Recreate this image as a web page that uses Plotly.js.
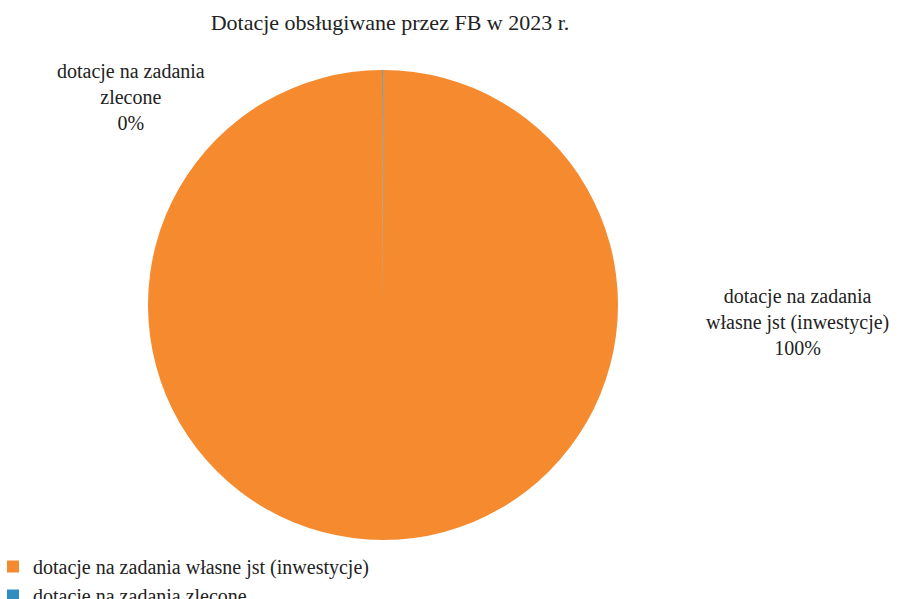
<!DOCTYPE html>
<html><head><meta charset="utf-8">
<script src="https://cdn.plot.ly/plotly-3.0.1.min.js"></script>
<style>html,body{margin:0;padding:0;background:#fff}#c{width:911px;height:599px}</style>
</head><body><div id="c"></div>
<script>
const categories = ["dotacje na zadania własne jst (inwestycje)", "dotacje na zadania zlecone"];
const values = [99.95, 0.05];
const pctLabels = ["100%", "0%"];
const colors = ["#F58A2E", "#2F8DBF"];
const W = 911, H = 599;
const serif = "'Times New Roman', 'Liberation Serif', Times, serif";

const trace = {
  type: "pie",
  labels: categories,
  values: values,
  sort: false,
  direction: "clockwise",
  rotation: 0,
  textinfo: "none",
  textposition: "none",
  hoverinfo: "label+percent",
  marker: {colors: colors, line: {color: "#ffffff", width: 0}},
  domain: {x: [148/W, 618/W], y: [1 - 542/H, 1 - 68/H]}
};

const layout = {
  width: W, height: H,
  margin: {l: 0, r: 0, t: 0, b: 0, autoexpand: false},
  paper_bgcolor: "#fff",
  font: {family: serif, color: "#222", size: 19},
  title: {text: "Dotacje obsługiwane przez FB w 2023 r.", font: {family: serif, size: 22, color: "#222"},
          x: 390/W, xanchor: "center", y: 1 - 22/H, yanchor: "middle"},
  showlegend: true,
  legend: {orientation: "h", x: -7/W, y: 1 - 581/H, xanchor: "left", yanchor: "middle",
           entrywidth: 400, entrywidthmode: "pixels", font: {family: serif, size: 20, color: "#222"},
           itemwidth: 30, traceorder: "normal"},
  annotations: [
    {text: "dotacje na zadania<br>zlecone<br>" + pctLabels[1], x: 131/W, y: 1 - 97/H, xref: "paper", yref: "paper",
     showarrow: false, xanchor: "center", yanchor: "middle", font: {family: serif, size: 20, color: "#222"}},
    {text: "dotacje na zadania<br>własne jst (inwestycje)<br>" + pctLabels[0], x: 797/W, y: 1 - 322/H, xref: "paper", yref: "paper",
     showarrow: false, xanchor: "center", yanchor: "middle", font: {family: serif, size: 20, color: "#222"}}
  ]
};
Plotly.newPlot("c", [trace], layout, {displayModeBar: false});
</script></body></html>
